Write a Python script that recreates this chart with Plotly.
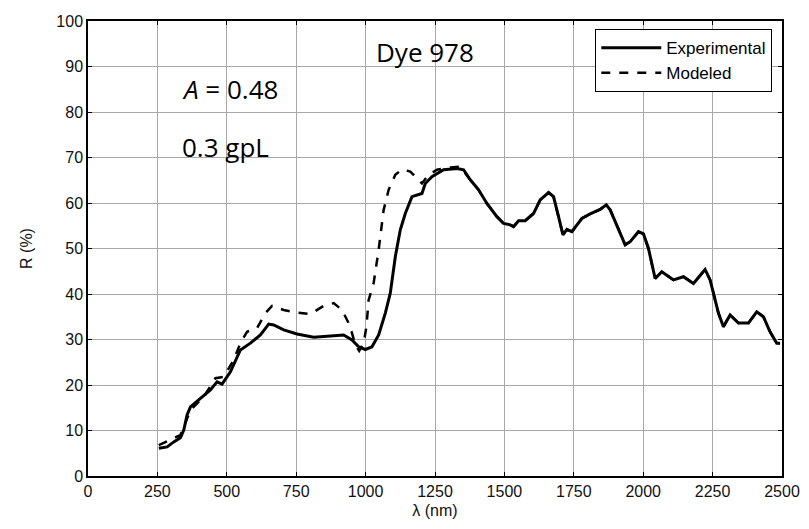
import plotly.graph_objects as go

# Experimental reflectance (solid)
exp_nm = [255, 285, 309, 333, 345, 357, 369, 405, 441, 465, 483, 513, 549, 585, 621, 651, 669,
          705, 753, 813, 873, 921, 951, 975, 999, 1023, 1047, 1071, 1089, 1107, 1125, 1143, 1167,
          1203, 1215, 1239, 1281, 1329, 1353, 1377, 1407, 1437, 1473, 1497, 1521, 1533, 1551, 1575,
          1605, 1629, 1659, 1677, 1695, 1711, 1725, 1743, 1779, 1809, 1845, 1867, 1881, 1911, 1935,
          1953, 1983, 2001, 2019, 2043, 2067, 2109, 2145, 2181, 2223, 2241, 2271, 2289, 2313, 2343,
          2379, 2409, 2433, 2457, 2481, 2493]
exp_r = [6.1, 6.4, 7.5, 8.4, 10.1, 13.4, 15.2, 17.1, 18.9, 20.7, 20.2, 22.9, 27.7, 29.2, 31.0, 33.4, 33.2,
         32.1, 31.2, 30.5, 30.8, 31.0, 29.9, 28.4, 27.8, 28.4, 31.0, 35.8, 40.2, 48.2, 54.1, 57.7, 61.4,
         62.1, 64.3, 65.8, 67.3, 67.6, 67.3, 65.1, 62.9, 59.9, 57.0, 55.5, 55.2, 54.8, 56.1, 56.1,
         57.7, 60.7, 62.3, 61.4, 57.0, 53.0, 54.2, 53.7, 56.6, 57.6, 58.6, 59.6, 58.5, 54.1, 50.8,
         51.5, 53.7, 53.2, 50.0, 43.4, 44.9, 43.1, 43.8, 42.3, 45.4, 43.1, 35.8, 32.8, 35.4, 33.6,
         33.6, 36.1, 35.0, 31.7, 29.2, 29.2]

# Modeled reflectance (dashed)
mod_nm = [255, 297, 333, 345, 369, 417, 459, 489, 525, 549, 573, 609, 639, 663, 705, 753, 801,
          849, 885, 915, 939, 951, 963, 977, 993, 1003, 1011, 1029, 1047, 1065, 1083, 1107, 1131,
          1161, 1185, 1203, 1227, 1257, 1305, 1341, 1377, 1407, 1437, 1473, 1497, 1521, 1533, 1551,
          1575, 1605, 1629, 1659, 1677, 1695, 1711, 1725, 1743, 1779, 1809, 1845, 1867, 1881, 1911,
          1935, 1953, 1983, 2001, 2019, 2043, 2067, 2109, 2145, 2181, 2223, 2241, 2271, 2289, 2313,
          2343, 2379, 2409, 2433, 2457, 2481, 2493]
mod_r = [6.8, 7.9, 9.0, 10.8, 14.5, 17.4, 21.5, 21.8, 25.5, 29.2, 31.7, 32.5, 35.8, 37.4, 36.5, 35.9, 35.6,
         37.4, 38.0, 36.5, 33.6, 31.4, 28.8, 27.5, 29.2, 32.8, 38.7, 42.4, 49.7, 58.5, 62.9, 66.2, 67.4,
         66.9, 65.4, 64.3, 66.2, 67.3, 67.8, 68.0, 65.1, 62.9, 59.9, 57.0, 55.5, 55.2, 54.8, 56.1,
         56.1, 57.7, 60.7, 62.3, 61.4, 57.0, 53.0, 54.2, 53.7, 56.6, 57.6, 58.6, 59.6, 58.5, 54.1,
         50.8, 51.5, 53.7, 53.2, 50.0, 43.4, 44.9, 43.1, 43.8, 42.3, 45.4, 43.1, 35.8, 32.8, 35.4,
         33.6, 33.6, 36.1, 35.0, 31.7, 29.2, 29.2]

x_ticks = [0, 250, 500, 750, 1000, 1250, 1500, 1750, 2000, 2250, 2500]
y_ticks = [0, 10, 20, 30, 40, 50, 60, 70, 80, 90, 100]

fig = go.Figure()
fig.add_trace(go.Scatter(x=mod_nm, y=mod_r, mode="lines", name="Modeled",
                         line=dict(color="black", width=2.5, dash="dash"), showlegend=False))
fig.add_trace(go.Scatter(x=exp_nm, y=exp_r, mode="lines", name="Experimental",
                         line=dict(color="black", width=3)))
fig.add_trace(go.Scatter(x=[None], y=[None], mode="lines", name="Modeled",
                         line=dict(color="black", width=2.5, dash="dash")))

lab_font = dict(family="Liberation Sans, Arial", size=16, color="#111")
axis_common = dict(showline=True, linecolor="black", linewidth=1.5, mirror="allticks",
                   ticks="inside", ticklen=4, tickcolor="black", showgrid=True,
                   gridcolor="#a8a8a8", gridwidth=1, zeroline=False, tickfont=lab_font,
                   automargin=False)

fig.update_xaxes(range=[0, 2500], tickvals=x_ticks, **axis_common,
                 title=dict(text="λ (nm)", font=lab_font, standoff=6))
fig.update_yaxes(range=[0, 100], tickvals=y_ticks, **axis_common,
                 title=dict(text="R (%)", font=lab_font, standoff=20))

tfont = dict(family="Open Sans, Lato, sans-serif", size=26, color="black")
fig.add_annotation(x=1215, y=93.2, text="Dye 978", showarrow=False, font=tfont, xanchor="center")
fig.add_annotation(x=330, y=85, text="<i>A</i> = 0.48", showarrow=False, font=tfont, xanchor="left")
fig.add_annotation(x=330, y=72.3, text="0.3 gpL", showarrow=False, font=tfont, xanchor="left")

# page body has an 8px default margin, so the figure is sized to fit inside it
fig.update_layout(
    width=801, height=521,
    margin=dict(l=80, r=27, t=13, b=53, autoexpand=False),
    paper_bgcolor="white", plot_bgcolor="white",
    legend=dict(x=0.986, y=0.982, xanchor="right", yanchor="top",
                bgcolor="white", bordercolor="black", borderwidth=1,
                font=dict(family="Liberation Sans, Arial", size=17, color="black"),
                itemwidth=60, tracegroupgap=0),
)

fig.write_html("out.html")
